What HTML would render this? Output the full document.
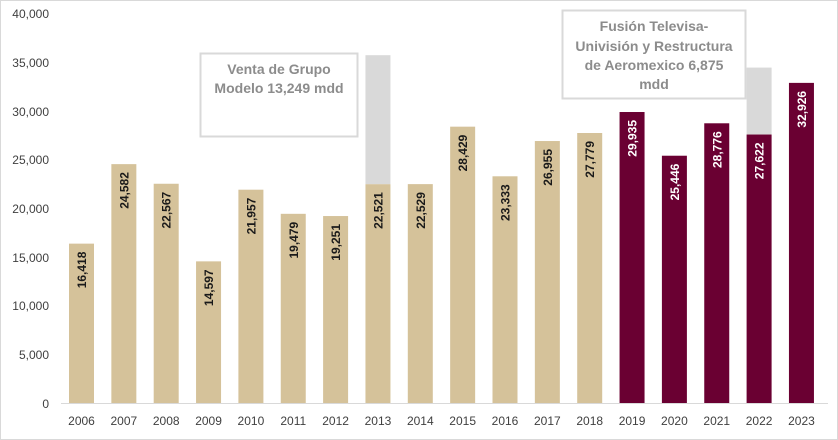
<!DOCTYPE html>
<html><head><meta charset="utf-8"><style>
html,body{margin:0;padding:0;background:#fff}
svg{display:block}
text{font-family:"Liberation Sans",sans-serif}
</style></head><body>
<svg width="838" height="440" xmlns="http://www.w3.org/2000/svg">
<rect x="0.5" y="0.5" width="837" height="439" fill="#fff" stroke="#d9d9d9"/>
<g font-size="12" fill="#404040" text-anchor="end">
<text x="49" y="18">40,000</text>
<text x="49" y="67">35,000</text>
<text x="49" y="116">30,000</text>
<text x="49" y="164">25,000</text>
<text x="49" y="213">20,000</text>
<text x="49" y="262">15,000</text>
<text x="49" y="310">10,000</text>
<text x="49" y="359">5,000</text>
<text x="49" y="408">0</text>
</g>
<rect x="365.45" y="55.19" width="25" height="129.01" fill="#d9d9d9"/>
<rect x="746.6" y="67.59" width="25" height="66.94" fill="#d9d9d9"/>
<g fill="#d5c29a">
<rect x="69" y="243.63" width="25" height="159.87"/>
<rect x="111.35" y="164.13" width="25" height="239.37"/>
<rect x="153.7" y="183.75" width="25" height="219.75"/>
<rect x="196.05" y="261.36" width="25" height="142.14"/>
<rect x="238.4" y="189.69" width="25" height="213.81"/>
<rect x="280.75" y="213.82" width="25" height="189.68"/>
<rect x="323.1" y="216.04" width="25" height="187.46"/>
<rect x="365.45" y="184.2" width="25" height="219.3"/>
<rect x="407.8" y="184.12" width="25" height="219.38"/>
<rect x="450.15" y="126.67" width="25" height="276.83"/>
<rect x="492.5" y="176.29" width="25" height="227.21"/>
<rect x="534.85" y="141.03" width="25" height="262.47"/>
<rect x="577.2" y="133" width="25" height="270.5"/>
</g>
<g fill="#6a0032">
<rect x="619.55" y="112.01" width="25" height="291.49"/>
<rect x="661.9" y="155.72" width="25" height="247.78"/>
<rect x="704.25" y="123.29" width="25" height="280.21"/>
<rect x="746.6" y="134.53" width="25" height="268.97"/>
<rect x="788.95" y="82.88" width="25" height="320.62"/>
</g>
<g font-size="12" font-weight="bold" fill="#1a1a1a" text-anchor="end">
<text transform="translate(86,251.6) rotate(-90)">16,418</text>
<text transform="translate(128.35,172.1) rotate(-90)">24,582</text>
<text transform="translate(170.7,191.8) rotate(-90)">22,567</text>
<text transform="translate(213.05,269.4) rotate(-90)">14,597</text>
<text transform="translate(255.4,197.7) rotate(-90)">21,957</text>
<text transform="translate(297.75,221.8) rotate(-90)">19,479</text>
<text transform="translate(340.1,224) rotate(-90)">19,251</text>
<text transform="translate(382.45,192.2) rotate(-90)">22,521</text>
<text transform="translate(424.8,192.1) rotate(-90)">22,529</text>
<text transform="translate(467.15,134.7) rotate(-90)">28,429</text>
<text transform="translate(509.5,184.3) rotate(-90)">23,333</text>
<text transform="translate(551.85,149) rotate(-90)">26,955</text>
<text transform="translate(594.2,141) rotate(-90)">27,779</text>
</g>
<g font-size="12" font-weight="bold" fill="#fff" text-anchor="end">
<text transform="translate(636.55,120) rotate(-90)">29,935</text>
<text transform="translate(678.9,163.7) rotate(-90)">25,446</text>
<text transform="translate(721.25,131.3) rotate(-90)">28,776</text>
<text transform="translate(763.6,142.5) rotate(-90)">27,622</text>
<text transform="translate(805.95,90.9) rotate(-90)">32,926</text>
</g>
<g font-size="12" fill="#404040" text-anchor="middle">
<text x="81.5" y="425">2006</text>
<text x="123.85" y="425">2007</text>
<text x="166.2" y="425">2008</text>
<text x="208.55" y="425">2009</text>
<text x="250.9" y="425">2010</text>
<text x="293.25" y="425">2011</text>
<text x="335.6" y="425">2012</text>
<text x="377.95" y="425">2013</text>
<text x="420.3" y="425">2014</text>
<text x="462.65" y="425">2015</text>
<text x="505" y="425">2016</text>
<text x="547.35" y="425">2017</text>
<text x="589.7" y="425">2018</text>
<text x="632.05" y="425">2019</text>
<text x="674.4" y="425">2020</text>
<text x="716.75" y="425">2021</text>
<text x="759.1" y="425">2022</text>
<text x="801.45" y="425">2023</text>
</g>
<line x1="61" y1="403.5" x2="828" y2="403.5" stroke="#d9d9d9" stroke-width="1"/>
<rect x="200.5" y="53.5" width="157" height="83" fill="#fff" stroke="#d9d9d9" stroke-width="2"/>
<g font-size="14" font-weight="bold" fill="#8c8c8c" text-anchor="middle">
<text x="279" y="74">Venta de Grupo</text>
<text x="279" y="93">Modelo 13,249 mdd</text>
</g>
<rect x="562.5" y="10.5" width="183" height="88" fill="#fff" stroke="#d9d9d9" stroke-width="2"/>
<g font-size="14" font-weight="bold" fill="#8c8c8c" text-anchor="middle">
<text x="654" y="31">Fusión Televisa-</text>
<text x="654" y="51">Univisión y Restructura</text>
<text x="654" y="70">de Aeromexico 6,875</text>
<text x="654" y="89">mdd</text>
</g>
</svg>
</body></html>
